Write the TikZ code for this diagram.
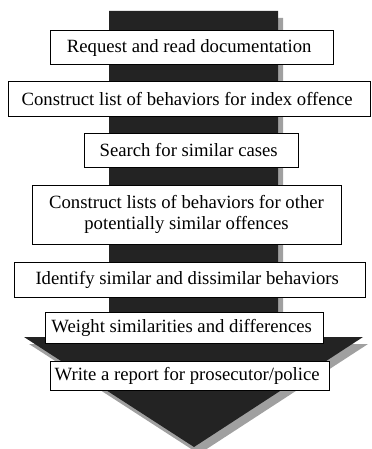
\documentclass[tikz,border=0pt]{standalone}
\usepackage{fontspec}
\setmainfont{Liberation Serif}
\definecolor{arrowdark}{HTML}{232323}
\definecolor{arrowshade}{HTML}{A0A0A0}
\begin{document}
\begin{tikzpicture}[x = 0.5pt, y = -0.5pt,
  stepbox/.style = {draw = black, line width = 0.5pt, fill = white, inner sep = 0pt,
    align = center, font = \fontsize{9.35}{10.5}\selectfont}]

  \useasboundingbox (0, 0) rectangle (371, 449);

  % Arrow
  \fill[arrowshade, shift = {(5, 7)}] (109, 11) -- (278, 11) -- (278, 337) -- (363, 337) -- (194, 447) -- (24, 337) -- (109, 337) -- cycle;
  \fill[arrowdark] (109, 11) -- (278, 11) -- (278, 337) -- (363, 337) -- (194, 447) -- (24, 337) -- (109, 337) -- cycle;

  % Steps
  \node[stepbox, minimum width = 141.5pt, minimum height = 17pt] (request) at (191.5, 48) { Request and read documentation };
  \node[stepbox, minimum width = 181pt, minimum height = 17pt] (indexlist) at (189.5, 99) { Construct list of behaviors for index offence };
  \node[stepbox, minimum width = 107pt, minimum height = 17pt] (search) at (191, 150) { Search for similar cases };
  \node[stepbox, minimum width = 154.5pt, minimum height = 29.5pt] (otherlists) at (186.5, 214.5) { Construct lists of behaviors for other \\ potentially similar offences };
  \node[stepbox, minimum width = 175.5pt, minimum height = 17.5pt] (identify) at (189.5, 279.5) { Identify similar and dissimilar behaviors };
  \node[stepbox, minimum width = 139pt, minimum height = 15.5pt] (weight) at (184, 328) { Weight similarities and differences };
  \node[stepbox, minimum width = 139.5pt, minimum height = 14.5pt] (report) at (189.5, 376) { Write a report for prosecutor/police };

\end{tikzpicture}
\end{document}
